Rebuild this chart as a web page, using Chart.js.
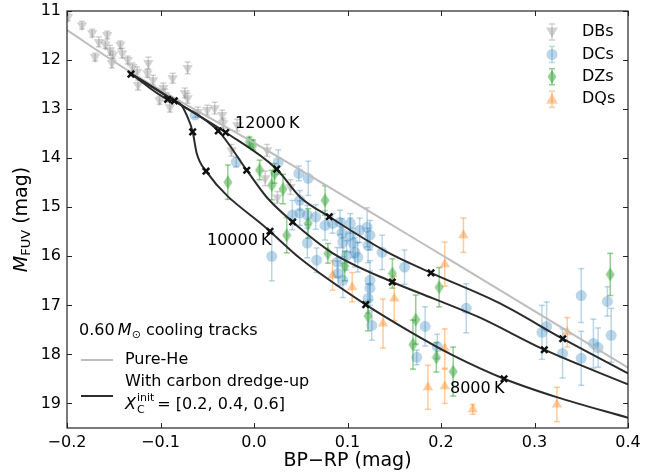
<!DOCTYPE html>
<html>
<head>
<meta charset="utf-8">
<script src="https://cdn.jsdelivr.net/npm/chart.js@4/dist/chart.umd.min.js"></script>
<style>
  html, body { margin: 0; padding: 0; background: #fff; }
</style>
</head>
<body>
<canvas id="chart" width="654" height="476"></canvas>
<script>
// ticks
const xTicks = [-0.2, -0.1, 0.0, 0.1, 0.2, 0.3, 0.4];
const yTicks = [11, 12, 13, 14, 15, 16, 17, 18, 19];

// DB white dwarfs
const dbX = [-0.199, -0.184, -0.173, -0.166, -0.157, -0.159, -0.154, -0.151, -0.141, -0.170, -0.152, -0.143, -0.135,
  -0.130, -0.125, -0.113, -0.114, -0.124, -0.108, -0.097, -0.095, -0.087, -0.071, -0.074, -0.071, -0.101, -0.090,
  -0.060, -0.050, -0.042, -0.034, -0.033, -0.018, -0.024, 0.014, 0.012, 0.025, 0.039];
const dbY = [11.12, 11.29, 11.45, 11.63, 11.49, 11.69, 11.80, 11.90, 11.86, 11.94, 12.06, 11.69, 12.00,
  12.14, 12.24, 12.06, 12.27, 12.51, 12.41, 12.57, 12.71, 12.37, 12.16, 12.67, 12.78, 12.82, 12.96,
  13.06, 13.02, 12.98, 13.12, 13.29, 13.33, 13.84, 13.84, 14.41, 14.80, 14.59];
const dbErr = [0.08, 0.08, 0.08, 0.10, 0.08, 0.08, 0.10, 0.08, 0.10, 0.08, 0.10, 0.08, 0.08,
  0.08, 0.10, 0.12, 0.08, 0.10, 0.10, 0.10, 0.12, 0.10, 0.12, 0.10, 0.10, 0.08, 0.10,
  0.10, 0.10, 0.12, 0.10, 0.10, 0.12, 0.12, 0.12, 0.15, 0.12, 0.15];

// DC white dwarfs
const dcX = [-0.063, -0.019, 0.026, 0.048, 0.058, 0.049, 0.041, 0.057, 0.066, 0.076, 0.084, 0.092, 0.094, 0.103,
  0.095, 0.106, 0.121, 0.124, 0.122, 0.108, 0.099, 0.057, 0.067, 0.089, 0.137, 0.161, 0.124, 0.124, 0.122, 0.126,
  0.095, 0.090, 0.019, 0.049, 0.103, 0.113, 0.111, 0.183, 0.174, 0.196, 0.227, 0.350, 0.378, 0.382, 0.313, 0.308,
  0.363, 0.368, 0.330, 0.350];
const dcY = [13.12, 14.08, 14.08, 14.31, 14.41, 14.86, 15.16, 15.16, 15.20, 15.37, 15.33, 15.31, 15.53, 15.57,
  15.71, 15.73, 15.41, 15.57, 15.78, 15.92, 15.98, 15.73, 16.08, 16.12, 15.92, 16.22, 16.49, 16.65, 16.86, 17.41,
  16.49, 16.35, 16.00, 15.12, 15.33, 15.47, 16.02, 17.43, 18.06, 17.84, 17.06, 16.80, 16.92, 17.61, 17.43, 17.55,
  17.78, 17.86, 17.98, 18.08];
const dcErr = [0.05, 0.10, 0.25, 0.15, 0.35, 0.20, 0.30, 0.20, 0.25, 0.30, 0.20, 0.25, 0.30, 0.35,
  0.30, 0.30, 0.40, 0.30, 0.35, 0.30, 0.30, 0.30, 0.25, 0.30, 0.35, 0.35, 0.40, 0.35, 0.30, 0.30,
  0.35, 0.25, 0.50, 0.25, 0.20, 0.25, 0.30, 0.40, 0.15, 0.25, 0.50, 0.55, 0.30, 0.55, 0.50, 0.55,
  0.50, 0.40, 0.50, 0.55];

// DZ white dwarfs
const dzX = [-0.005, -0.001, -0.028, 0.006, 0.019, 0.022, 0.031, 0.076, 0.058, 0.035, 0.079, 0.097, 0.148,
  0.198, 0.122, 0.173, 0.170, 0.195, 0.213, 0.381];
const dzY = [13.67, 13.73, 14.49, 14.24, 14.55, 14.31, 14.63, 14.86, 15.33, 15.57, 15.94, 16.20, 16.35,
  16.63, 17.22, 17.29, 17.80, 18.06, 18.35, 16.37];
const dzErr = [0.10, 0.10, 0.35, 0.20, 0.30, 0.20, 0.30, 0.30, 0.30, 0.36, 0.20, 0.30, 0.30,
  0.40, 0.30, 0.50, 0.50, 0.30, 0.50, 0.43];

// DQ white dwarfs
const dqX = [0.224, 0.204, 0.084, 0.105, 0.150, 0.138, 0.186, 0.204, 0.204, 0.234, 0.335, 0.324];
const dqY = [15.57, 16.16, 16.39, 16.63, 16.86, 17.37, 18.67, 18.65, 17.88, 19.12, 17.55, 19.02];
const dqErr = [0.35, 0.45, 0.30, 0.30, 0.45, 0.50, 0.45, 0.35, 0.40, 0.10, 0.30, 0.35];

// cooling tracks
const pureHeX = [-0.2, -0.130, 0.014, 0.210, 0.4];
const pureHeY = [11.39, 12.27, 13.84, 16.08, 18.27];

const track1X = [-0.1326, -0.0923, -0.0791, -0.0720, -0.0656, -0.0613, -0.0513, 0.0171, 0.0492, 0.1195, 0.170, 0.2128, 0.2674, 0.3237, 0.4];
const track1Y = [12.265, 12.802, 12.884, 13.122, 13.463, 13.898, 14.265, 15.490, 16.041, 16.986, 17.571, 18.020, 18.496, 18.871, 19.292];
const track2X = [-0.1326, -0.0852, -0.0382, -0.0078, 0.0136, 0.0414, 0.0845, 0.1479, 0.1914, 0.2417, 0.3105, 0.4];
const track2Y = [12.265, 12.831, 13.443, 14.245, 14.796, 15.300, 15.939, 16.524, 16.857, 17.251, 17.904, 18.612];
const track3X = [-0.1326, -0.0852, -0.0303, 0.0243, 0.0492, 0.0805, 0.142, 0.1893, 0.2631, 0.3302, 0.4];
const track3Y = [12.265, 12.831, 13.476, 14.224, 14.790, 15.194, 15.910, 16.337, 16.959, 17.680, 18.388];

// temperature markers on the tracks
const crossX = [-0.1316, -0.0923, -0.0656, -0.0513, 0.0171, 0.1195, 0.2674,
  -0.0852, -0.0382, -0.0078, 0.0414, 0.1479, 0.3105,
  -0.0303, 0.0243, 0.0805, 0.1893, 0.3302];
const crossY = [12.286, 12.802, 13.463, 14.265, 15.490, 16.986, 18.496,
  12.831, 13.443, 14.245, 15.300, 16.524, 17.904,
  13.476, 14.224, 15.194, 16.337, 17.680];

// temperature labels
const tempLabels = ['12000\u2009K', '10000\u2009K', '8000\u2009K'];
const tempX = [-0.0203, -0.0503, 0.2096];
const tempY = [13.306, 15.694, 18.694];

const FONT = '"DejaVu Sans", sans-serif';
const dbColor = 'rgba(128,128,128,0.35)';
const dcColor = 'rgba(31,119,180,0.3)';
const dzColor = 'rgba(44,160,44,0.5)';
const dqColor = 'rgba(255,127,14,0.4)';

function pts(xs, ys) {
  return xs.map((x, i) => ({ x: x, y: ys[i] }));
}

// thin diamond marker
function thinDiamond(color) {
  const c = document.createElement('canvas');
  c.width = 10; c.height = 15;
  const g = c.getContext('2d');
  g.fillStyle = color;
  g.beginPath();
  g.moveTo(5, 0.5); g.lineTo(9.5, 7.5); g.lineTo(5, 14.5); g.lineTo(0.5, 7.5);
  g.closePath(); g.fill();
  return c;
}
const dzMarker = thinDiamond(dzColor);

function scatterSet(label, xs, ys, errs, color, style, rot, r) {
  return {
    type: 'scatter', label: label, data: pts(xs, ys), yErr: errs, errColor: color,
    pointStyle: style, rotation: rot, pointRadius: r, pointHoverRadius: r,
    backgroundColor: color, borderColor: color, borderWidth: 0, order: 5
  };
}

function trackSet(xs, ys, color) {
  return {
    type: 'line', data: pts(xs, ys), borderColor: color, borderWidth: 2,
    pointRadius: 0, cubicInterpolationMode: 'monotone', fill: false, order: 2
  };
}

// draw runs of text with different fonts / offsets
function textRuns(ctx, parts, x, y, align) {
  let w = 0;
  parts.forEach(p => { ctx.font = p[1]; w += ctx.measureText(p[0]).width; });
  let cx = align === 'center' ? x - w / 2 : x;
  parts.forEach(p => {
    ctx.font = p[1];
    ctx.fillText(p[0], cx, y + (p[2] || 0));
    cx += ctx.measureText(p[0]).width;
  });
  return cx;
}

const errorBars = {
  id: 'errorBars',
  beforeDatasetsDraw(chart) {
    const { ctx, chartArea: a, scales: { x, y } } = chart;
    ctx.save();
    ctx.beginPath();
    ctx.rect(a.left, a.top, a.right - a.left, a.bottom - a.top);
    ctx.clip();
    ctx.lineWidth = 1.5;
    chart.data.datasets.forEach(ds => {
      if (!ds.yErr) return;
      ctx.strokeStyle = ds.errColor;
      ds.data.forEach((p, j) => {
        const px = x.getPixelForValue(p.x);
        const y0 = y.getPixelForValue(p.y - ds.yErr[j]);
        const y1 = y.getPixelForValue(p.y + ds.yErr[j]);
        ctx.beginPath();
        ctx.moveTo(px, y0); ctx.lineTo(px, y1);
        ctx.stroke();
        ctx.beginPath();
        ctx.moveTo(px - 3, y0); ctx.lineTo(px + 3, y0);
        ctx.stroke();
        ctx.beginPath();
        ctx.moveTo(px - 3, y1); ctx.lineTo(px + 3, y1);
        ctx.stroke();
      });
    });
    ctx.restore();
  }
};

const decorations = {
  id: 'decorations',
  afterDraw(chart) {
    const { ctx, chartArea: a, scales: { x, y } } = chart;
    ctx.save();

    // frame + inward ticks on all sides
    ctx.strokeStyle = '#222';
    ctx.lineWidth = 1.2;
    ctx.strokeRect(a.left, a.top, a.right - a.left, a.bottom - a.top);
    ctx.lineWidth = 1;
    ctx.beginPath();
    xTicks.forEach(v => {
      const px = Math.round(x.getPixelForValue(v)) + 0.5;
      ctx.moveTo(px, a.bottom); ctx.lineTo(px, a.bottom - 5);
      ctx.moveTo(px, a.top); ctx.lineTo(px, a.top + 5);
    });
    yTicks.forEach(v => {
      const py = Math.round(y.getPixelForValue(v)) + 0.5;
      ctx.moveTo(a.left, py); ctx.lineTo(a.left + 5, py);
      ctx.moveTo(a.right, py); ctx.lineTo(a.right - 5, py);
    });
    ctx.stroke();

    ctx.fillStyle = '#000';
    ctx.textBaseline = 'middle';

    // temperature labels
    tempLabels.forEach((t, i) => {
      ctx.font = '16px ' + FONT;
      ctx.fillText(t, x.getPixelForValue(tempX[i]), y.getPixelForValue(tempY[i]));
    });

    // axis titles
    textRuns(ctx, [['BP\u2212RP (mag)', '19px ' + FONT]], (a.left + a.right) / 2, 461, 'center');
    ctx.save();
    ctx.translate(22, (a.top + a.bottom) / 2);
    ctx.rotate(-Math.PI / 2);
    textRuns(ctx, [
      ['M', 'italic 19px ' + FONT],
      ['FUV', '13px ' + FONT, 5],
      [' (mag)', '19px ' + FONT]
    ], 0, 0, 'center');
    ctx.restore();

    // legend: spectral types
    const rows = [
      ['DBs', dbColor, 'tri'], ['DCs', dcColor, 'circ'], ['DZs', dzColor, 'dia'], ['DQs', dqColor, 'triup']
    ];
    rows.forEach((r, i) => {
      const cy = 32 + i * 22.4, mx = 552;
      ctx.strokeStyle = r[1]; ctx.fillStyle = r[1]; ctx.lineWidth = 1.5;
      ctx.beginPath();
      ctx.moveTo(mx, cy - 8); ctx.lineTo(mx, cy + 8);
      ctx.moveTo(mx - 3, cy - 8); ctx.lineTo(mx + 3, cy - 8);
      ctx.moveTo(mx - 3, cy + 8); ctx.lineTo(mx + 3, cy + 8);
      ctx.stroke();
      ctx.beginPath();
      if (r[2] === 'circ') ctx.arc(mx, cy, 5.5, 0, Math.PI * 2);
      else if (r[2] === 'tri') { ctx.moveTo(mx - 6, cy - 4.5); ctx.lineTo(mx + 6, cy - 4.5); ctx.lineTo(mx, cy + 6); }
      else if (r[2] === 'triup') { ctx.moveTo(mx - 6, cy + 4.5); ctx.lineTo(mx + 6, cy + 4.5); ctx.lineTo(mx, cy - 6); }
      else { ctx.moveTo(mx, cy - 7); ctx.lineTo(mx + 4.5, cy); ctx.lineTo(mx, cy + 7); ctx.lineTo(mx - 4.5, cy); }
      ctx.closePath(); ctx.fill();
      ctx.fillStyle = '#000';
      ctx.font = '16px ' + FONT;
      ctx.fillText(r[0], 582, cy);
    });

    // legend: cooling tracks
    ctx.fillStyle = '#000';
    textRuns(ctx, [
      ['0.60\u2009', '16px ' + FONT],
      ['M', 'italic 16px ' + FONT],
      ['\u2299', '11px ' + FONT, 4],
      [' cooling tracks', '16px ' + FONT]
    ], 79, 331, 'left');

    ctx.lineWidth = 2;
    ctx.strokeStyle = '#bdbdbd';
    ctx.beginPath(); ctx.moveTo(81, 360); ctx.lineTo(113, 360); ctx.stroke();
    ctx.font = '16px ' + FONT;
    ctx.fillText('Pure-He', 125, 360);

    ctx.strokeStyle = '#2b2b2b';
    ctx.beginPath(); ctx.moveTo(81, 396); ctx.lineTo(113, 396); ctx.stroke();
    ctx.fillText('With carbon dredge-up', 125, 382);
    ctx.font = 'italic 16px ' + FONT;
    ctx.fillText('X', 125, 405);
    let cx = 125 + ctx.measureText('X').width + 1;
    ctx.font = '11px ' + FONT;
    ctx.fillText('C', cx, 410);
    ctx.fillText('init', cx, 398);
    cx += ctx.measureText('init').width + 3;
    ctx.font = '16px ' + FONT;
    ctx.fillText('= [0.2, 0.4, 0.6]', cx, 405);

    ctx.restore();
  }
};

new Chart(document.getElementById('chart').getContext('2d'), {
  data: {
    datasets: [
      scatterSet('DBs', dbX, dbY, dbErr, dbColor, 'triangle', 180, 6),
      scatterSet('DCs', dcX, dcY, dcErr, dcColor, 'circle', 0, 5.5),
      scatterSet('DZs', dzX, dzY, dzErr, dzColor, dzMarker, 0, 6),
      scatterSet('DQs', dqX, dqY, dqErr, dqColor, 'triangle', 0, 6),
      Object.assign(trackSet(pureHeX, pureHeY, '#bdbdbd'), { order: 3 }),
      trackSet(track1X, track1Y, '#2b2b2b'),
      trackSet(track2X, track2Y, '#2b2b2b'),
      trackSet(track3X, track3Y, '#2b2b2b'),
      {
        type: 'scatter', data: pts(crossX, crossY), pointStyle: 'crossRot',
        pointRadius: 4.5, borderWidth: 2.5, borderColor: '#111', backgroundColor: '#111', order: 0
      }
    ]
  },
  options: {
    responsive: false,
    animation: false,
    devicePixelRatio: 1,
    layout: { padding: { top: 11, right: 26, left: 0, bottom: 0 } },
    plugins: { legend: { display: false }, tooltip: { enabled: false } },
    scales: {
      x: {
        type: 'linear', min: -0.2, max: 0.4,
        afterBuildTicks: s => { s.ticks = xTicks.map(v => ({ value: v })); },
        afterFit: s => { s.height = 48; s.paddingLeft = 0; s.paddingRight = 0; },
        grid: { display: false, drawTicks: false }, border: { display: false },
        ticks: {
          padding: 5, color: '#000', font: { family: FONT, size: 16 },
          callback: v => (v < -1e-9 ? '\u2212' : '') + Math.abs(v).toFixed(1)
        }
      },
      y: {
        type: 'linear', min: 11, max: 19.5, reverse: true,
        afterBuildTicks: s => { s.ticks = yTicks.map(v => ({ value: v })); },
        afterFit: s => { s.width = 67; s.paddingTop = 0; s.paddingBottom = 0; },
        grid: { display: false, drawTicks: false }, border: { display: false },
        ticks: {
          padding: 6, color: '#000', font: { family: FONT, size: 16 },
          callback: v => String(v)
        }
      }
    }
  },
  plugins: [errorBars, decorations]
});
</script>
</body>
</html>
